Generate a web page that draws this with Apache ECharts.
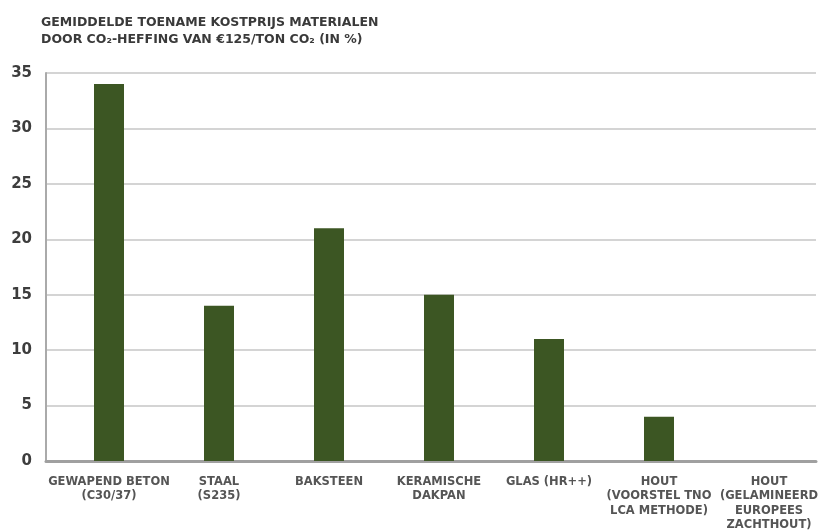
<!DOCTYPE html>
<html>
<head>
<meta charset="utf-8">
<script src="https://cdn.jsdelivr.net/npm/echarts@6/dist/echarts.min.js"></script>
<style>
html,body{margin:0;padding:0;background:#fff;}
#chart{width:826px;height:532px;}
</style>
</head>
<body>
<div id="chart"></div>
<script>
const categories = [
  "GEWAPEND BETON\n(C30/37)",
  "STAAL\n(S235)",
  "BAKSTEEN",
  "KERAMISCHE\nDAKPAN",
  "GLAS (HR++)",
  "HOUT\n(VOORSTEL TNO\nLCA METHODE)",
  "HOUT\n(GELAMINEERD\nEUROPEES\nZACHTHOUT)"
];
const values = [34, 14, 21, 15, 11, 4, 0];
const yTicks = { min: 0, max: 35, interval: 5 };
const titleLines = ["GEMIDDELDE TOENAME KOSTPRIJS MATERIALEN", "DOOR CO\u2082-HEFFING VAN \u20AC125/TON CO\u2082 (IN %)"];

const chart = echarts.init(document.getElementById('chart'));
chart.setOption({
  backgroundColor: '#fff',
  animation: false,
  title: {
    text: titleLines.join('\n'),
    left: 36, top: 9,
    textStyle: { fontFamily: 'DejaVu Sans', fontWeight: 'bold', fontSize: 12.5, color: '#3a3a3a', lineHeight: 17 }
  },
  grid: [
    { left: 46, right: 10, top: 73, bottom: 71, outerBoundsMode: 'none', containLabel: false },
    { left: 54, right: 2, top: 73, bottom: 71, outerBoundsMode: 'none', containLabel: false }
  ],
  xAxis: [
    {
      type: 'category', gridIndex: 0,
      data: categories,
      axisLine: { lineStyle: { color: '#a0a0a0', width: 3 } },
      axisTick: { show: false },
      axisLabel: { show: false }
    },
    {
      type: 'category', gridIndex: 1,
      data: categories,
      axisLine: { show: false },
      axisTick: { show: false },
      axisLabel: {
        interval: 0, margin: 14,
        fontFamily: 'DejaVu Sans', fontWeight: 'bold', fontSize: 11.5, color: '#555', lineHeight: 14.3
      }
    }
  ],
  yAxis: [
    {
      type: 'value', gridIndex: 0,
      min: yTicks.min, max: yTicks.max, interval: yTicks.interval,
      axisLine: { show: true, lineStyle: { color: '#aaa', width: 2 } },
      axisTick: { show: false },
      splitLine: { lineStyle: { color: '#d4d4d4', width: 2 } },
      axisLabel: { margin: 14, fontFamily: 'DejaVu Sans', fontWeight: 'bold', fontSize: 15, color: '#3d3d3d' }
    },
    {
      type: 'value', gridIndex: 1,
      min: yTicks.min, max: yTicks.max, interval: yTicks.interval,
      show: false
    }
  ],
  series: [{
    type: 'bar',
    xAxisIndex: 1, yAxisIndex: 1,
    data: values,
    barWidth: 30,
    itemStyle: { color: '#3c5623' }
  }]
});
</script>
</body>
</html>
